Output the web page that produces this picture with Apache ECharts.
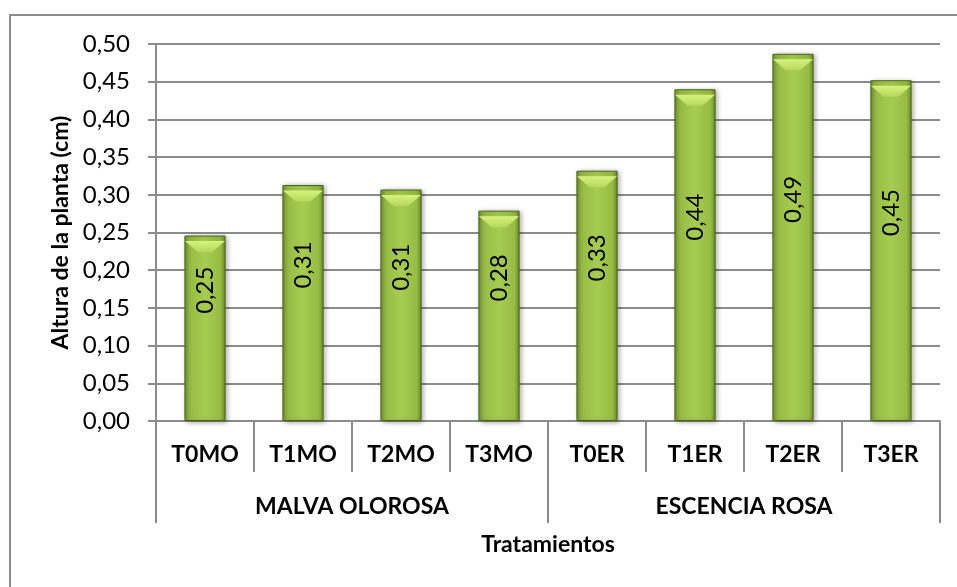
<!DOCTYPE html>
<html>
<head>
<meta charset="utf-8">
<script src="https://cdn.jsdelivr.net/npm/echarts@6/dist/echarts.min.js"></script>
<style>
  html, body { margin: 0; padding: 0; background: #ffffff; }
  #chart { width: 957px; height: 587px; }
</style>
</head>
<body>
<div id="chart"></div>
<script>
// Plant height per treatment
const treatments = ['T0MO', 'T1MO', 'T2MO', 'T3MO', 'T0ER', 'T1ER', 'T2ER', 'T3ER'];
const groups = ['MALVA OLOROSA', 'ESCENCIA ROSA'];
const heights = [0.246, 0.313, 0.307, 0.279, 0.332, 0.440, 0.487, 0.452];
const yTicks = { min: 0, max: 0.5, interval: 0.05 };

const FONT = 'Lato';
const GRID_COLOR = '#8c8c8c';
const fmt = v => v.toFixed(2).replace('.', ',');

const chart = echarts.init(document.getElementById('chart'), null, { renderer: 'canvas' });

const barFill = new echarts.graphic.LinearGradient(0, 0, 1, 0, [
  { offset: 0, color: '#70902c' },
  { offset: 0.12, color: '#97bc45' },
  { offset: 0.5, color: '#a7cc51' },
  { offset: 0.88, color: '#97bc45' },
  { offset: 1, color: '#6a8a28' }
]);
const bevelFill = new echarts.graphic.LinearGradient(0, 0, 0, 1, [
  { offset: 0, color: '#d6f27e' },
  { offset: 1, color: '#b5d85b' }
]);

chart.setOption({
  animation: false,
  textStyle: { fontFamily: FONT },
  graphic: [{
    type: 'rect',
    shape: { x: 10, y: 15, width: 980, height: 620 },
    style: { fill: 'none', stroke: GRID_COLOR, lineWidth: 2 },
    silent: true,
    z: -1
  }],
  grid: { left: 156, right: 17, top: 44, bottom: 166, containLabel: false },
  xAxis: [{
    type: 'category',
    data: treatments,
    position: 'bottom',
    axisLine: { show: true, lineStyle: { color: GRID_COLOR, width: 2 } },
    axisTick: { show: true, interval: 0, length: 51, lineStyle: { color: GRID_COLOR, width: 2 } },
    axisLabel: { interval: 0, margin: 22, color: '#000', fontFamily: FONT, fontWeight: 'bold', fontSize: 23 }
  }, {
    type: 'category',
    data: groups,
    position: 'bottom',
    offset: 51,
    axisLine: { show: false },
    axisTick: { show: true, interval: 0, length: 51, lineStyle: { color: GRID_COLOR, width: 2 } },
    axisLabel: { interval: 0, margin: 23, color: '#000', fontFamily: FONT, fontWeight: 'bold', fontSize: 23 },
    name: 'Tratamientos',
    nameLocation: 'middle',
    nameGap: 61,
    nameTextStyle: { color: '#000', fontFamily: FONT, fontWeight: 'bold', fontSize: 23 }
  }],
  yAxis: {
    type: 'value',
    min: yTicks.min,
    max: yTicks.max,
    interval: yTicks.interval,
    axisLine: { show: true, lineStyle: { color: GRID_COLOR, width: 2 } },
    axisTick: { show: true, length: 8, lineStyle: { color: GRID_COLOR, width: 2 } },
    splitLine: { show: true, lineStyle: { color: GRID_COLOR, width: 2 } },
    axisLabel: { margin: 26, color: '#000', fontFamily: FONT, fontSize: 24, formatter: fmt },
    name: 'Altura de la planta (cm)',
    nameLocation: 'middle',
    nameGap: 81,
    nameTextStyle: { color: '#000', fontFamily: FONT, fontWeight: 'bold', fontSize: 23 }
  },
  series: [{
    type: 'bar',
    data: heights,
    barWidth: '42%',
    itemStyle: {
      color: barFill,
      borderColor: '#4a6418',
      borderWidth: 1,
      shadowBlur: 5,
      shadowColor: 'rgba(0,0,0,0.35)',
      shadowOffsetX: 2,
      shadowOffsetY: 1
    },
    label: {
      show: true,
      position: 'inside',
      rotate: 90,
      // offset is in the rotated frame: +x points up the bar
      offset: [38, 0],
      color: '#000',
      fontFamily: FONT,
      fontSize: 24,
      formatter: p => fmt(p.value)
    },
    z: 2
  }, {
    // light bevel on the top face of each bar
    type: 'pictorialBar',
    data: heights,
    symbol: 'path://M0,0L41,0L28,11L13,11Z',
    symbolSize: [40, 11],
    symbolPosition: 'end',
    symbolOffset: [0, '50%'],
    itemStyle: { color: bevelFill },
    silent: true,
    z: 3
  }]
});
</script>
</body>
</html>
